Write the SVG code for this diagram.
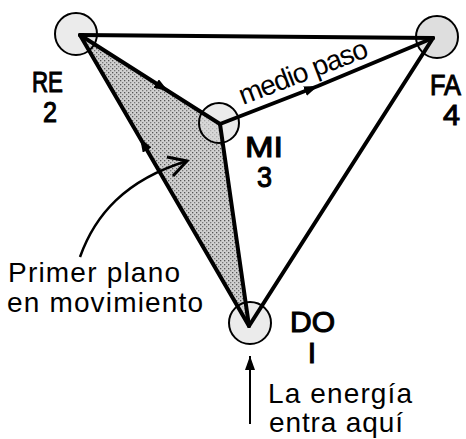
<svg xmlns="http://www.w3.org/2000/svg" width="466" height="439" viewBox="0 0 466 439">
  <style>
    .edge { fill: none; stroke: #000; stroke-width: 4; stroke-linejoin: round; stroke-linecap: round; }
    .node { fill: #dedede; stroke: #000; stroke-width: 2; }
    .lab { font-family: "Liberation Sans", Arial, sans-serif; font-size: 30px; fill: #000; stroke: #000; stroke-width: 1.1; }
    .txt { font-family: "Liberation Sans", Arial, sans-serif; font-size: 28px; fill: #000; }
  </style>
  <defs>
    <marker id="arr" markerUnits="userSpaceOnUse" markerWidth="16" markerHeight="12" refX="14" refY="5" orient="auto">
      <path d="M0,0 L14,5 L0,10 Z" fill="#000"/>
    </marker>
    <pattern id="dots" width="4" height="4" patternUnits="userSpaceOnUse">
      <rect width="4" height="4" fill="#d0d0d0"/>
      <rect x="0" y="0" width="1.3" height="1.3" fill="#555"/>
      <rect x="2" y="2" width="1.3" height="1.3" fill="#777"/>
    </pattern>
  </defs>

  <!-- shaded first plane -->
  <polygon id="plane" points="80,35 220,124 249,326" fill="url(#dots)"/>

  <g id="node-re"><circle class="node" cx="76" cy="34" r="21" fill-opacity="0.6"/></g>
  <g id="node-mi"><circle class="node" cx="219" cy="123" r="20" fill-opacity="0.6"/></g>
  <g id="node-fa"><circle class="node" cx="437" cy="37" r="21"/></g>
  <g id="node-do"><circle class="node" cx="250" cy="323" r="21" fill-opacity="0.6"/></g>

  <g id="connectors">
    <path class="edge" d="M80,35 L433,38"/>
    <path class="edge" d="M80,35 L168,91 L220,124" marker-mid="url(#arr)"/>
    <path class="edge" d="M220,124 L318,86 L433,38" marker-mid="url(#arr)"/>
    <path class="edge" d="M249,326 L140,138 L80,35" marker-mid="url(#arr)"/>
    <path class="edge" d="M220,124 L249,326"/>
    <path class="edge" d="M433,38 L249,326"/>
    <path fill="none" stroke="#000" stroke-width="2" d="M250,424 L250,356" marker-end="url(#arr)"/>
    <path fill="none" stroke="#000" stroke-width="2.5" d="M80,257 C95,215 125,180 187,161"/>
    <path fill="none" stroke="#000" stroke-width="3" stroke-linejoin="miter" d="M167,157 L187,161 L173,176"/>
  </g>

  <g id="labels">
    <text class="lab" x="32" y="92" textLength="31" lengthAdjust="spacingAndGlyphs">RE</text>
    <text class="lab" x="43" y="122" textLength="14" lengthAdjust="spacingAndGlyphs">2</text>
    <text class="lab" x="245" y="157" textLength="38" lengthAdjust="spacingAndGlyphs">MI</text>
    <text class="lab" x="257" y="187" textLength="15" lengthAdjust="spacingAndGlyphs">3</text>
    <text class="lab" x="430" y="95" textLength="31" lengthAdjust="spacingAndGlyphs">FA</text>
    <text class="lab" x="443" y="125" textLength="17" lengthAdjust="spacingAndGlyphs">4</text>
    <text class="lab" x="290" y="332" textLength="45" lengthAdjust="spacingAndGlyphs">DO</text>
    <text class="lab" x="312" y="363" font-size="28" text-anchor="middle">I</text>

    <text class="txt" x="243" y="105" font-size="24" textLength="136" transform="rotate(-21 243 105)">medio paso</text>
    <text class="txt" x="8" y="282" textLength="172">Primer plano</text>
    <text class="txt" x="7" y="312" textLength="196">en movimiento</text>
    <text class="txt" x="268" y="403" textLength="144">La energía</text>
    <text class="txt" x="269" y="432" textLength="134">entra aquí</text>
  </g>
</svg>
